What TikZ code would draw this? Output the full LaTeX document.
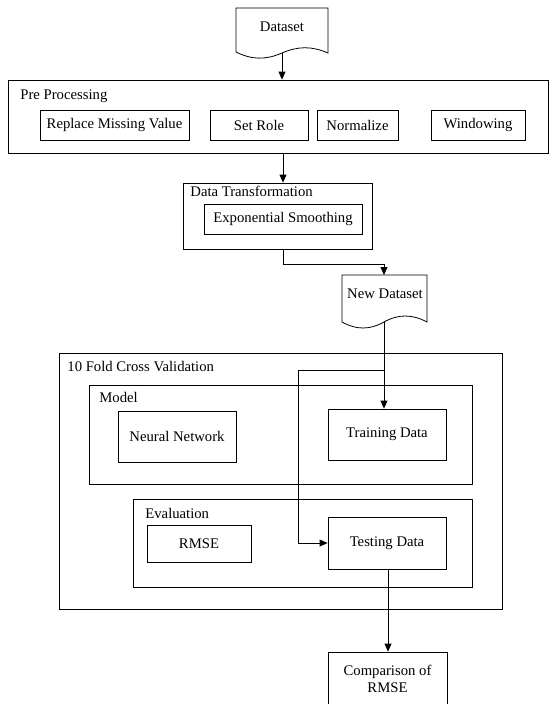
\documentclass[tikz,border=0pt]{standalone}
\usepackage{fontspec}
\setmainfont{Liberation Serif}
\usetikzlibrary{arrows.meta}
\begin{document}
\begin{tikzpicture}[x=1pt,y=-1pt,
  font=\fontsize{14.7}{17}\selectfont,
  line width=0.8pt,
  box/.style={draw,rectangle,inner sep=0pt,align=center},
  lbl/.style={anchor=west,inner sep=0pt},
  txt/.style={inner sep=0pt,align=center},
  arr/.style={-{Triangle[length=8pt,width=7pt]}}]
\useasboundingbox (0,0) rectangle (553,704);

% input document
\draw (236,52) -- (236,8) -- (328,8) -- (328,53)
  .. controls (312,46) and (298,46) .. (282,53)
  .. controls (266,60) and (252,60) .. (236,52) -- cycle;
\node[txt] (dataset) at (282,27) {Dataset};
\coordinate (dsb) at (282,53);

% pre processing stage
\node[box,minimum width=540pt,minimum height=73pt] (pre) at (278,116.5) {};
\node[lbl] (prel) at (20,96) {Pre Processing};
\node[box,minimum width=149pt,minimum height=30pt] (rmv) at (114.5,125) {Replace Missing Value};
\node[box,minimum width=98pt,minimum height=30pt] (role) at (259,125) {Set Role};
\node[box,minimum width=81pt,minimum height=30pt] (norm) at (357.5,125) {Normalize};
\node[box,minimum width=94pt,minimum height=30pt] (wind) at (478,125) {Windowing};

% data transformation stage
\node[box,minimum width=189pt,minimum height=66pt] (dt) at (277.5,216) {};
\node[lbl] (dtl) at (190,191) {Data Transformation};
\node[box,minimum width=158pt,minimum height=30pt] (es) at (283,219) {Exponential Smoothing};

% transformed document
\draw (342,322) -- (342,275) -- (427,275) -- (427,322)
  .. controls (412,314) and (398,314) .. (384,322)
  .. controls (370,330) and (356,330) .. (342,322) -- cycle;
\node[txt] (newds) at (385,294) {New Dataset};
\coordinate (ndt) at (384,275);
\coordinate (ndb) at (384,322);

% cross validation
\node[box,minimum width=443pt,minimum height=256pt] (cv) at (280.5,481) {};
\node[lbl] (cvl) at (67,367) {10 Fold Cross Validation};
\node[box,minimum width=383pt,minimum height=99pt] (model) at (280.5,434.5) {};
\node[lbl] (modell) at (99,397) {Model};
\node[box,minimum width=118pt,minimum height=51pt] (nn) at (177,436.5) {Neural Network};
\node[box,minimum width=118pt,minimum height=51pt] (train) at (387,434.5) {Training Data};
\node[box,minimum width=339pt,minimum height=88pt] (eval) at (302.5,543) {};
\node[lbl] (evall) at (145,513) {Evaluation};
\node[box,minimum width=104pt,minimum height=37pt] (rmse) at (199,543.5) {RMSE};
\node[box,minimum width=118pt,minimum height=52pt] (test) at (387,543) {Testing Data};

% result
\node[box,minimum width=119pt,minimum height=54pt] (comp) at (387.5,679) {Comparison of\\RMSE};

% connectors
\draw[arr] (dsb) -- (dsb |- pre.north);
\draw[arr] (pre.south -| 283,0) -- (dt.north -| 283,0);
\draw[arr] (dt.south -| 283,0) -- (283,264) -- (384,264) -- (ndt);
\draw[arr] (ndb) -- (ndb |- train.north);
\coordinate (br) at (384,370);
\draw[arr] (br) -- (298,370) -- (298,543) -- (test.west);
\draw[arr] (test.south -| 388,0) -- (comp.north -| 388,0);
\end{tikzpicture}
\end{document}
